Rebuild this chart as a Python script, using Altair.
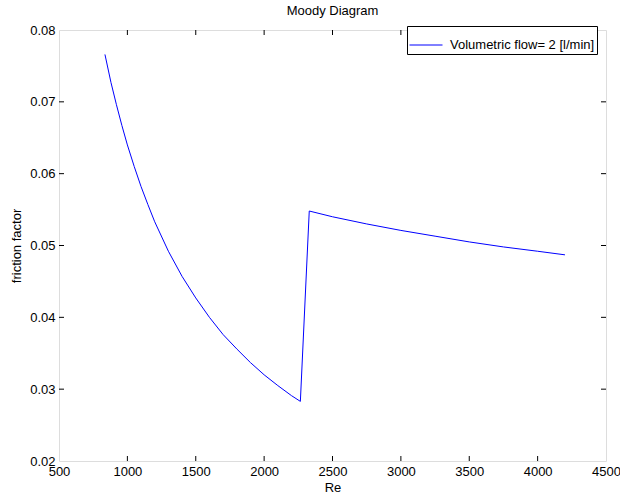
import altair as alt
import pandas as pd

# Values
re_vals = [836, 880, 920, 960, 1000, 1050, 1100, 1150, 1200, 1300, 1400, 1500,
           1600, 1700, 1800, 1900, 2000, 2100, 2200, 2265,
           2330, 2500, 2750, 3000, 3250, 3500, 3750, 4000, 4200]
f_vals = [0.0766, 0.0727, 0.0696, 0.0667, 0.0640, 0.0610, 0.0582, 0.0557, 0.0533,
          0.0492, 0.0457, 0.0427, 0.0400, 0.0376, 0.0356, 0.0337, 0.0320, 0.0305,
          0.0291, 0.0283,
          0.0548, 0.0540, 0.0530, 0.0521, 0.0513, 0.0505, 0.0498, 0.0492, 0.0487]
series_name = "Volumetric flow= 2 [l/min]"
x_ticks = [500, 1000, 1500, 2000, 2500, 3000, 3500, 4000, 4500]
y_ticks = [0.02, 0.03, 0.04, 0.05, 0.06, 0.07, 0.08]

FONT = "Liberation Sans"
FS = 13
W, H = 547, 431
TICK = 5

df = pd.DataFrame({"Re": re_vals, "f": f_vals, "series": series_name})
xt = pd.DataFrame({"Re": x_ticks[1:-1]})
yt = pd.DataFrame({"f": y_ticks[1:-1]})

x_scale = alt.Scale(domain=[500, 4500], nice=False, zero=False)
y_scale = alt.Scale(domain=[0.02, 0.08], nice=False, zero=False)
common_axis = dict(ticks=False, domain=False, grid=False, labelPadding=4,
                   labelFlush=False, labelOverlap=False,
                   labelFont=FONT, labelFontSize=FS, labelColor="black",
                   titleFont=FONT, titleFontSize=FS, titleColor="black",
                   titleFontWeight="normal")
x_axis = alt.Axis(values=x_ticks, format="d", title="Re", titlePadding=3, **common_axis)
y_axis = alt.Axis(values=y_ticks, format=".2f", title="friction factor",
                  titlePadding=6, **common_axis)

x_enc = alt.X("Re:Q", scale=x_scale, axis=x_axis)
y_enc = alt.Y("f:Q", scale=y_scale, axis=y_axis)

line = alt.Chart(df).mark_line(strokeWidth=1, clip=True).encode(
    x=x_enc,
    y=y_enc,
    order=alt.Order("Re:Q"),
    color=alt.Color(
        "series:N",
        scale=alt.Scale(domain=[series_name], range=["#0000ff"]),
        legend=alt.Legend(
            title=None, orient="none", legendX=348, legendY=-4,
            strokeColor="black", fillColor="white", padding=2,
            symbolType="stroke", symbolSize=1089, symbolStrokeWidth=1,
            labelFontSize=FS, labelFont=FONT, labelColor="black", labelOffset=7,
            cornerRadius=0,
        ),
    ),
)

tick_style = dict(color="black", strokeWidth=1)
x_bottom = alt.Chart(xt).mark_rule(**tick_style).encode(
    x=x_enc, y=alt.value(H), y2=alt.value(H - TICK))
x_top = alt.Chart(xt).mark_rule(**tick_style).encode(
    x=x_enc, y=alt.value(0), y2=alt.value(TICK))
y_left = alt.Chart(yt).mark_rule(**tick_style).encode(
    y=y_enc, x=alt.value(0), x2=alt.value(TICK))
y_right = alt.Chart(yt).mark_rule(**tick_style).encode(
    y=y_enc, x=alt.value(W), x2=alt.value(W - TICK))

chart = alt.layer(x_bottom, x_top, y_left, y_right, line).properties(
    width=W, height=H,
    title=alt.TitleParams("Moody Diagram", font=FONT, fontSize=FS, fontWeight="normal",
                          color="black", anchor="middle", offset=6),
    autosize=alt.AutoSizeParams(type="none"),
    padding={"left": 59, "top": 30, "right": 14, "bottom": 34},
).configure_view(
    stroke="black", strokeWidth=1, fill="white"
).configure(background="white")

chart.save("out.html", embed_options={"renderer": "svg", "actions": False})
